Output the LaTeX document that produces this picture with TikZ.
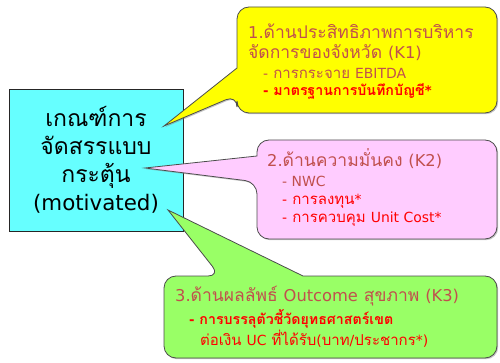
\documentclass[tikz,border=0pt]{standalone}
\usepackage{fontspec}
\setmainfont[Script=Thai]{Loma}
\newfontfamily\lat{DejaVu Sans}[Scale=0.93]
\usetikzlibrary{shadows}
\definecolor{cuecyan}{HTML}{66FFFF}
\definecolor{cueyellow}{HTML}{FFFF00}
\definecolor{cuepink}{HTML}{FFCCFF}
\definecolor{cuegreen}{HTML}{99FF66}
\definecolor{headred}{HTML}{C0504D}
\definecolor{itemred}{HTML}{FF0000}
\begin{document}
\begin{tikzpicture}[x=1pt,y=-1pt,
  callout/.style={draw=black!70, line width=0.8pt,
    drop shadow={shadow xshift=1.2pt, shadow yshift=-1.2pt, opacity=0.45}},
  head/.style={anchor=west, inner sep=0pt, text=headred, font=\fontsize{17.5}{19}\selectfont},
  item/.style={anchor=west, inner sep=0pt, text=headred, font=\fontsize{15}{16}\selectfont},
  itemred/.style={item, text=itemred},
  itemhot/.style={anchor=west, inner sep=0pt, text=itemred, font=\fontsize{14.2}{16}\selectfont\bfseries},
  critbox/.style={draw=black!85, line width=0.8pt, fill=cuecyan, minimum width=174pt,
    minimum height=142pt, align=center, font=\fontsize{23}{28}\selectfont}]
\useasboundingbox (0,0) rectangle (500,363);
% central box
\node[critbox] (crit) at (96,160) {เกณฑ์การ\\จัดสรรแบบ\\กระตุ้น\\{\lat(motivated)}};
\coordinate (k1tip) at (164,126);
\coordinate (k2tip) at (145,168);
\coordinate (k3tip) at (168,210);
% callout K1
\path[callout, fill=cueyellow] (237,68) [rounded corners=12pt] -- (237,7) -- (497,7) -- (497,113) -- (237,113) -- (237,95) [sharp corners] -- (k1tip) -- cycle;
% callout K2
\path[callout, fill=cuepink] (257,156) [rounded corners=12pt] -- (257,140) -- (497,140) -- (497,239) -- (257,239) -- (257,182) [sharp corners] -- (k2tip) -- cycle;
% callout K3
\path[callout, fill=cuegreen] (303,276) [rounded corners=12pt] -- (497,276) -- (497,358) -- (164,358) -- (164,276) -- (220,276) [sharp corners] -- (k3tip) -- cycle;
% texts K1
\node[head] (k1a) at (248,31) {{\lat 1.}ด้านประสิทธิภาพการบริหาร};
\node[head] (k1b) at (248,53) {จัดการของจังหวัด {\lat (K1)}};
\node[item] (k1c) at (263,73) {{\lat -} การกระจาย {\lat EBITDA}};
\node[itemhot] (k1d) at (263,91) {{\lat -} มาตรฐานการบันทึกบัญชี{\lat *}};
% texts K2
\node[head] (k2a) at (267,159) {{\lat 2.}ด้านความมั่นคง {\lat (K2)}};
\node[item] (k2b) at (282,181) {{\lat - NWC}};
\node[itemred] (k2c) at (282,201) {{\lat -} การลงทุน{\lat *}};
\node[itemred] (k2d) at (282,219) {{\lat -} การควบคุม {\lat Unit Cost*}};
% texts K3
\node[head] (k3a) at (175,296) {{\lat 3.}ด้านผลลัพธ์ {\lat Outcome} สุขภาพ {\lat (K3)}};
\node[itemhot] (k3b) at (189,319) {{\lat -} การบรรลุตัวชี้วัดยุทธศาสตร์เขต};
\node[itemred] (k3c) at (200,339) {ต่อเงิน {\lat UC} ที่ได้รับ{\lat (}บาท{\lat /}ประชากร{\lat *)}};
\end{tikzpicture}
\end{document}
